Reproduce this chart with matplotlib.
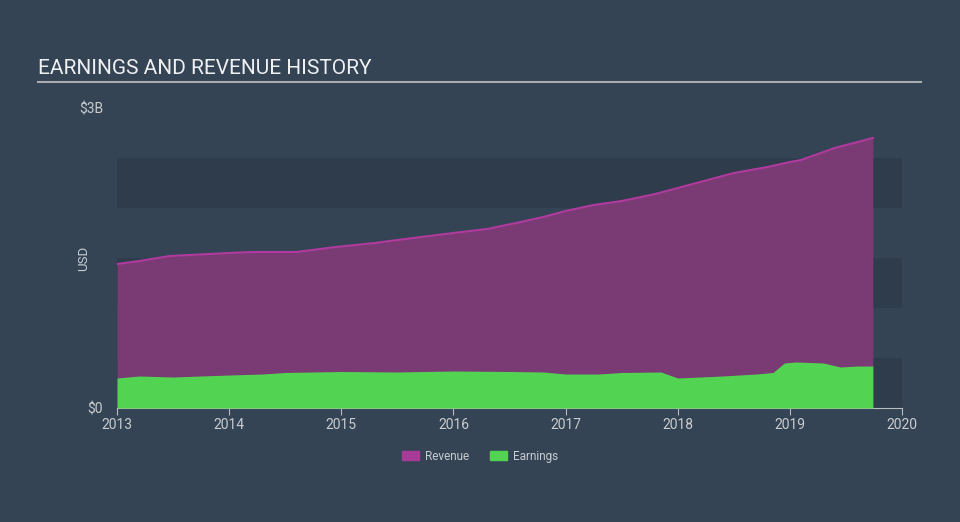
import matplotlib.pyplot as plt
from matplotlib.patches import Patch

plt.rcParams['font.family'] = ['Roboto', 'DejaVu Sans']

# values (billions USD)
rev_t = [2013.0, 2013.2, 2013.47, 2014.0, 2014.2, 2014.6, 2014.95, 2015.3, 2015.5,
         2016.0, 2016.3, 2016.6, 2016.8, 2017.0, 2017.25, 2017.5, 2017.8, 2018.0,
         2018.2, 2018.5, 2018.8, 2019.0, 2019.1, 2019.4, 2019.74]
revenue = [1.44, 1.47, 1.52, 1.55, 1.56, 1.56, 1.61, 1.65, 1.68,
           1.75, 1.79, 1.86, 1.91, 1.97, 2.03, 2.07, 2.14, 2.20,
           2.26, 2.35, 2.41, 2.46, 2.48, 2.60, 2.70]

earn_t = [2013.0, 2013.2, 2013.5, 2014.0, 2014.3, 2014.5, 2015.0, 2015.5, 2016.0,
          2016.5, 2016.8, 2017.0, 2017.3, 2017.5, 2017.85, 2018.0, 2018.2, 2018.4,
          2018.7, 2018.85, 2018.95, 2019.05, 2019.3, 2019.45, 2019.6, 2019.74]
earnings = [0.30, 0.32, 0.31, 0.33, 0.34, 0.355, 0.365, 0.36, 0.37,
            0.365, 0.36, 0.34, 0.34, 0.355, 0.36, 0.30, 0.31, 0.32,
            0.34, 0.355, 0.45, 0.46, 0.45, 0.41, 0.42, 0.42]

years = [2013, 2014, 2015, 2016, 2017, 2018, 2019, 2020]

bg = '#344454'
band = '#2e3c4b'
rev_fill = '#7a3a74'
rev_line = '#b03a9e'
earn_fill = '#52d452'
txt = '#c8ccd0'

fig = plt.figure(figsize=(9.6, 5.22), dpi=100, facecolor=bg)
ax = fig.add_axes([117 / 960, 114 / 522, 785 / 960, 300 / 522])
ax.set_facecolor(bg)

for lo in [0, 1.0, 2.0]:
    ax.axhspan(lo, lo + 0.5, color=band, zorder=0, lw=0)

ax.fill_between(rev_t, revenue, color=rev_fill, lw=0, zorder=1)
ax.plot(rev_t, revenue, color=rev_line, lw=1.5, zorder=2)
ax.fill_between(earn_t, earnings, color=earn_fill, lw=0, zorder=3)

ax.set_xlim(2013, 2020)
ax.set_ylim(0, 3)
for s in ['top', 'right', 'left']:
    ax.spines[s].set_visible(False)
ax.spines['bottom'].set_color('#b8bcc0')
ax.set_xticks(years)
ax.set_xticklabels([str(y) for y in years])
ax.tick_params(axis='x', colors='#b8bcc0', labelcolor=txt, labelsize=10, length=5, pad=2)
ax.set_yticks([0, 3])
ax.set_yticklabels(['$0', '$3B'])
ax.tick_params(axis='y', length=0, labelcolor=txt, labelsize=10, pad=10)
fig.text(84 / 960, 1 - 258 / 522, 'USD', color=txt, fontsize=9.5, rotation=90,
         ha='center', va='center')

fig.text(38 / 960, 1 - 68 / 522, 'EARNINGS AND REVENUE HISTORY', color='#eef0f2',
         fontsize=15, va='center', ha='left')
fig.add_artist(plt.Line2D([38 / 960, 921 / 960], [1 - 82 / 522, 1 - 82 / 522],
                          color='#a8acb0', lw=1.5))

handles = [Patch(color='#a83a98', label='Revenue'), Patch(color=earn_fill, label='Earnings')]
fig.legend(handles=handles, loc='center', bbox_to_anchor=(0.5, 1 - 456 / 522), ncol=2,
           frameon=False, fontsize=8.5, labelcolor=txt, handlelength=1.4, handleheight=0.9,
           columnspacing=1.8, handletextpad=0.5)

fig.savefig('out.png', dpi=100, facecolor=bg)
